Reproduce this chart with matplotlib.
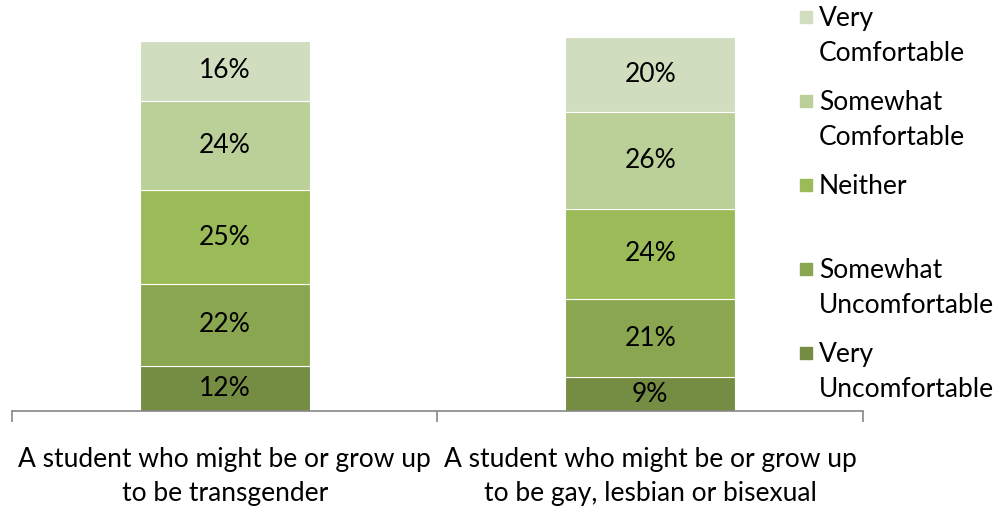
import matplotlib.pyplot as plt
from matplotlib.patches import Rectangle

plt.rcParams['font.family'] = ['Lato', 'DejaVu Sans']

# data
categories = ['A student who might be or grow up\nto be transgender',
              'A student who might be or grow up\nto be gay, lesbian or bisexual']
series = ['Very Uncomfortable', 'Somewhat Uncomfortable', 'Neither',
          'Somewhat Comfortable', 'Very Comfortable']
legend_labels = ['Very\nComfortable', 'Somewhat\nComfortable', 'Neither',
                 'Somewhat\nUncomfortable', 'Very\nUncomfortable']
values = {
    'Very Uncomfortable': [12, 9],
    'Somewhat Uncomfortable': [22, 21],
    'Neither': [25, 24],
    'Somewhat Comfortable': [24, 26],
    'Very Comfortable': [16, 20],
}
colors = {
    'Very Uncomfortable': '#758C43',
    'Somewhat Uncomfortable': '#8AA650',
    'Neither': '#9BBB59',
    'Somewhat Comfortable': '#BBCF98',
    'Very Comfortable': '#D1DDBF',
}

W, H = 1003, 512
fig = plt.figure(figsize=(W / 100, H / 100), dpi=100)
ax = fig.add_axes([12 / W, 101 / H, (863 - 12) / W, 374 / H])

x = range(len(categories))
bottom = [0, 0]
for s in series:
    bars = ax.bar(x, values[s], 0.4, bottom=bottom, color=colors[s],
                  edgecolor='white', linewidth=0.8)
    for b, v in zip(bars, values[s]):
        ax.text(b.get_x() + b.get_width() / 2, b.get_y() + b.get_height() / 2,
                f'{v}%', ha='center', va='center', fontsize=19, color='black')
    bottom = [b + v for b, v in zip(bottom, values[s])]

ax.set_xlim(-0.5, 1.5)
ax.set_ylim(0, 100)
for sp in ['top', 'right', 'left']:
    ax.spines[sp].set_visible(False)
ax.spines['bottom'].set_color('#868686')
ax.spines['bottom'].set_linewidth(1.2)
ax.set_yticks([])
ax.set_xticks(list(x))
ax.set_xticklabels(categories, fontsize=19, linespacing=1.42)
ax.tick_params(axis='x', which='major', length=0, pad=26)
ax.set_xticks([-0.5, 0.5, 1.5], minor=True)
ax.tick_params(axis='x', which='minor', length=8, color='#868686', width=1.2)

# legend (manual, Excel-style)
for i, (lab, s) in enumerate(zip(legend_labels, series[::-1])):
    yc = 17 + 84 * i
    fig.add_artist(Rectangle((800 / W, 1 - (yc + 6) / H), 12 / W, 12 / H,
                             transform=fig.transFigure, color=colors[s]))
    fig.text(819 / W, 1 - (yc - 11) / H, lab, ha='left', va='top',
             fontsize=19, linespacing=1.5)

fig.savefig('out.png', dpi=100)
